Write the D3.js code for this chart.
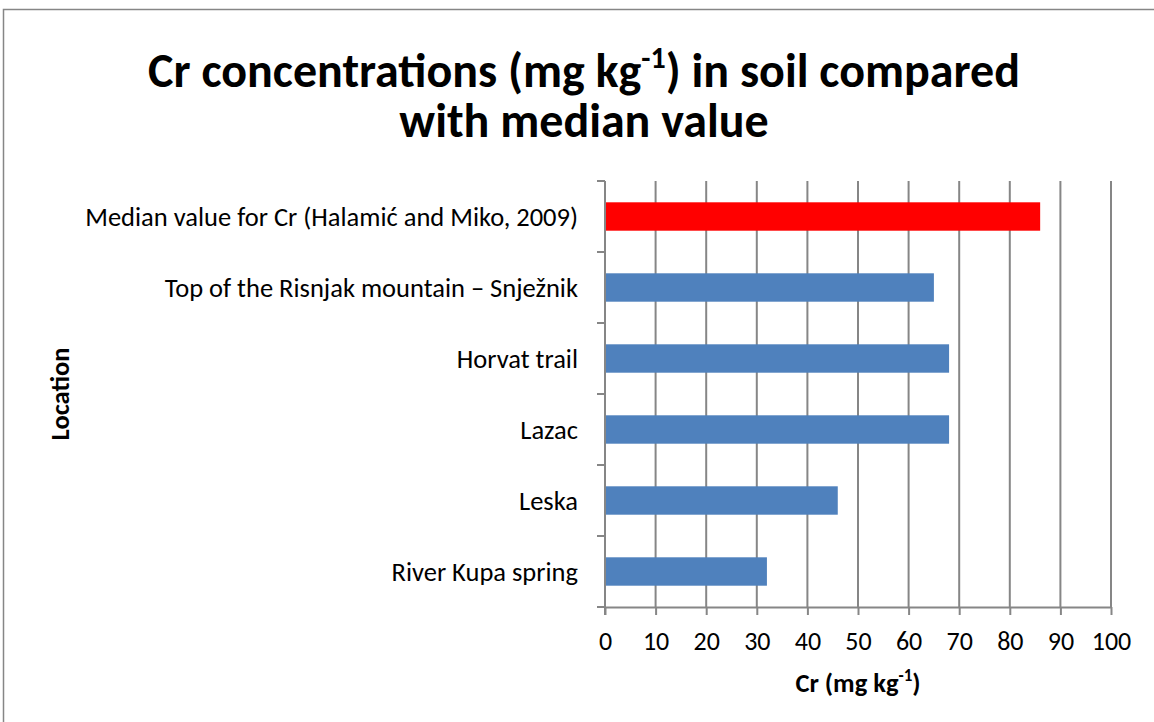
<!DOCTYPE html>
<html>
<head>
<meta charset="utf-8">
<script src="https://cdn.jsdelivr.net/npm/d3@7"></script>
<style>
  body { margin: 0; background: #fff; }
  text { font-family: Carlito, "Open Sans", "Liberation Sans", sans-serif; fill: #000; }
</style>
</head>
<body>
<div id="chart"></div>
<script>
var locations = [
  "Median value for Cr (Halamić and Miko, 2009)",
  "Top of the Risnjak mountain – Snježnik",
  "Horvat trail",
  "Lazac",
  "Leska",
  "River Kupa spring"
];
var crValues = [86, 65, 68, 68, 46, 32];
var barColors = ["#ff0000", "#4f81bd", "#4f81bd", "#4f81bd", "#4f81bd", "#4f81bd"];
var xTicks = [0, 10, 20, 30, 40, 50, 60, 70, 80, 90, 100];

var data = locations.map(function (d, i) {
  return { loc: d, value: crValues[i], color: barColors[i] };
});

var W = 1154, H = 722;
var plotLeft = 605, plotRight = 1111, plotTop = 181, plotBottom = 607;

var svg = d3.select("#chart").append("svg")
  .attr("width", W).attr("height", H);

svg.append("rect")
  .attr("x", 3.5).attr("y", 9.5)
  .attr("width", 1160).attr("height", 730)
  .attr("fill", "#fff").attr("stroke", "#868686").attr("stroke-width", 1.5);

var x = d3.scaleLinear().domain([0, 100]).range([plotLeft, plotRight]);
var y = d3.scaleBand().domain(locations).range([plotTop, plotBottom]).paddingInner(0.6).paddingOuter(0.3);

// gridlines
svg.append("g").selectAll("line")
  .data(xTicks.slice(1))
  .enter().append("line")
  .attr("x1", function (d) { return x(d); })
  .attr("x2", function (d) { return x(d); })
  .attr("y1", plotTop).attr("y2", plotBottom)
  .attr("stroke", "#868686").attr("stroke-width", 2);

// bars
svg.append("g").selectAll("rect")
  .data(data)
  .enter().append("rect")
  .attr("x", x(0))
  .attr("y", function (d) { return y(d.loc); })
  .attr("width", function (d) { return x(d.value) - x(0); })
  .attr("height", y.bandwidth())
  .attr("fill", function (d) { return d.color; });

// x axis
var xAxis = svg.append("g")
  .attr("transform", "translate(0," + plotBottom + ")")
  .call(d3.axisBottom(x).tickValues(xTicks).tickSize(8).tickSizeOuter(0).tickPadding(17));
xAxis.select(".domain").attr("stroke", "#868686").attr("stroke-width", 2);
xAxis.selectAll(".tick line").attr("stroke", "#868686").attr("stroke-width", 2);
xAxis.selectAll(".tick text").style("font-size", "26px").style("font-family", "Carlito, 'Open Sans', sans-serif");

// y axis: line + ticks at category boundaries
var step = (plotBottom - plotTop) / locations.length;
var yAxisG = svg.append("g");
yAxisG.append("line")
  .attr("x1", plotLeft).attr("x2", plotLeft).attr("y1", plotTop).attr("y2", plotBottom + 8)
  .attr("stroke", "#868686").attr("stroke-width", 2);
yAxisG.selectAll("line.yt")
  .data(d3.range(locations.length + 1))
  .enter().append("line")
  .attr("class", "yt")
  .attr("x1", plotLeft - 8).attr("x2", plotLeft)
  .attr("y1", function (i) { return plotTop + i * step; })
  .attr("y2", function (i) { return plotTop + i * step; })
  .attr("stroke", "#868686").attr("stroke-width", 2);

yAxisG.selectAll("text.cat")
  .data(locations)
  .enter().append("text")
  .attr("class", "cat")
  .attr("x", plotLeft - 27)
  .attr("y", function (d) { return y(d) + y.bandwidth() / 2; })
  .attr("dy", "0.35em")
  .attr("text-anchor", "end")
  .style("font-size", "26.5px")
  .text(function (d) { return d; });

// title
var t1 = svg.append("text")
  .attr("x", 584).attr("y", 87)
  .attr("text-anchor", "middle")
  .style("font-size", "48px").style("font-weight", "bold");
t1.append("tspan").text("Cr concentrations (mg kg");
t1.append("tspan").attr("dy", -19).style("font-size", "30px").text("-1");
t1.append("tspan").attr("dy", 19).text(") in soil compared");

svg.append("text")
  .attr("x", 584).attr("y", 137)
  .attr("text-anchor", "middle")
  .style("font-size", "48px").style("font-weight", "bold")
  .text("with median value");

// x axis title
var xt = svg.append("text")
  .attr("x", 858).attr("y", 692)
  .attr("text-anchor", "middle")
  .style("font-size", "26.5px").style("font-weight", "bold");
xt.append("tspan").text("Cr (mg kg");
xt.append("tspan").attr("dy", -11).style("font-size", "17px").text("-1");
xt.append("tspan").attr("dy", 11).text(")");

// y axis title
svg.append("text")
  .attr("transform", "translate(69,394) rotate(-90)")
  .attr("text-anchor", "middle")
  .style("font-size", "26.5px").style("font-weight", "bold")
  .text("Location");
</script>
</body>
</html>
